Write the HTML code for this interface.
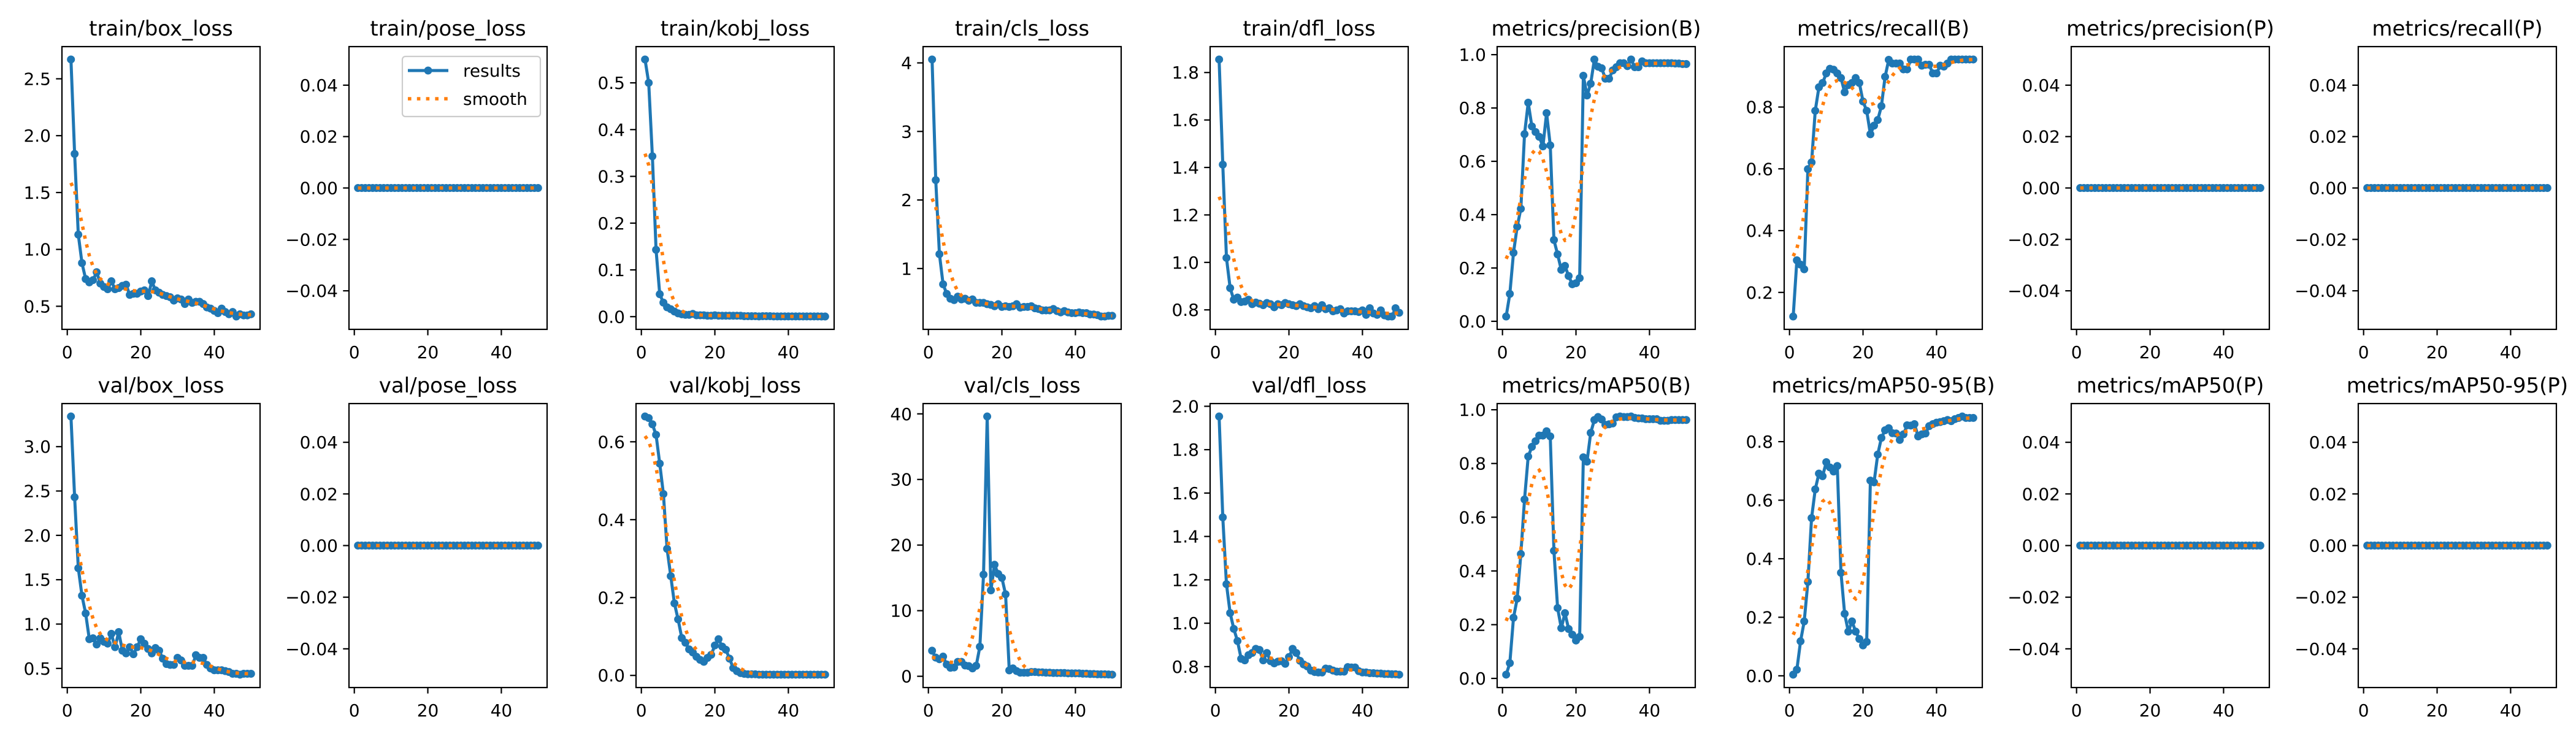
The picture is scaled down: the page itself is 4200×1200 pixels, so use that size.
<!DOCTYPE html>
<html><head><meta charset="utf-8"><title>results</title>
<style>
html,body{margin:0;padding:0;background:#fff;}
svg{display:block;font-family:"DejaVu Sans","Liberation Sans",sans-serif;}
</style></head>
<body>
<svg id="fig" width="4200" height="1200" viewBox="0 0 4200 1200" xmlns="http://www.w3.org/2000/svg">
<rect width="4200" height="1200" fill="#fff"/>
</svg>
<script>
const epochs = Array.from({length:50},(_,i)=>i+1);
const xTicks = [0,20,40];
const titles = [
 ["train/box_loss","train/pose_loss","train/kobj_loss","train/cls_loss","train/dfl_loss","metrics/precision(B)","metrics/recall(B)","metrics/precision(P)","metrics/recall(P)"],
 ["val/box_loss","val/pose_loss","val/kobj_loss","val/cls_loss","val/dfl_loss","metrics/mAP50(B)","metrics/mAP50-95(B)","metrics/mAP50(P)","metrics/mAP50-95(P)"]
];
const zeros = new Array(50).fill(0);
const trainBox = [2.67,1.84,1.13,0.88,0.74,0.71,0.73,0.80,0.70,0.67,0.65,0.72,0.65,0.66,0.68,0.69,0.60,0.61,0.61,0.63,0.64,0.59,0.72,0.64,0.62,0.60,0.59,0.58,0.55,0.57,0.56,0.52,0.56,0.53,0.54,0.54,0.52,0.49,0.48,0.46,0.44,0.48,0.45,0.43,0.45,0.41,0.43,0.42,0.42,0.43];
const trainKobj = [0.55,0.50,0.343,0.143,0.048,0.03,0.02,0.016,0.011,0.007,0.005,0.004,0.004,0.006,0.003,0.003,0.003,0.002,0.002,0.003,0.002,0.002,0.002,0.002,0.002,0.002,0.002,0.001,0.001,0.001,0.001,0.0005,0.001,0.001,0.001,0.0005,0.0005,0.0005,0.0005,0.0005,0.0005,0.0005,0.0005,0.0005,0.0005,0.0005,0.0005,0.0005,0.0003,0.0003];
const trainCls = [4.05,2.29,1.21,0.77,0.63,0.56,0.54,0.59,0.55,0.56,0.53,0.55,0.50,0.50,0.50,0.48,0.47,0.45,0.48,0.44,0.45,0.44,0.45,0.48,0.43,0.44,0.44,0.45,0.42,0.41,0.39,0.39,0.39,0.41,0.38,0.36,0.38,0.36,0.35,0.35,0.36,0.35,0.35,0.33,0.33,0.32,0.30,0.30,0.31,0.31];
const trainDfl = [1.855,1.412,1.019,0.892,0.843,0.852,0.833,0.835,0.843,0.824,0.831,0.826,0.82,0.829,0.824,0.811,0.824,0.82,0.829,0.824,0.82,0.816,0.824,0.816,0.811,0.807,0.816,0.803,0.82,0.803,0.807,0.794,0.798,0.803,0.785,0.794,0.794,0.794,0.791,0.798,0.779,0.807,0.785,0.779,0.798,0.777,0.772,0.772,0.807,0.788];
const precisionB = [0.018,0.103,0.257,0.355,0.422,0.702,0.820,0.731,0.710,0.692,0.656,0.781,0.660,0.305,0.251,0.193,0.208,0.170,0.139,0.143,0.162,0.921,0.847,0.891,0.982,0.955,0.949,0.910,0.910,0.941,0.953,0.968,0.968,0.957,0.982,0.953,0.953,0.975,0.968,0.968,0.968,0.968,0.968,0.968,0.968,0.968,0.967,0.967,0.965,0.965];
const recallB = [0.122,0.304,0.290,0.275,0.599,0.621,0.788,0.864,0.878,0.909,0.924,0.921,0.909,0.894,0.848,0.871,0.878,0.894,0.878,0.818,0.788,0.712,0.740,0.758,0.803,0.898,0.953,0.941,0.941,0.941,0.922,0.922,0.954,0.954,0.954,0.934,0.937,0.937,0.909,0.909,0.934,0.931,0.941,0.954,0.954,0.954,0.954,0.954,0.954,0.954];
const valBox = [3.34,2.43,1.63,1.32,1.12,0.83,0.84,0.77,0.84,0.80,0.78,0.89,0.74,0.91,0.70,0.67,0.74,0.66,0.74,0.83,0.78,0.72,0.67,0.73,0.70,0.61,0.55,0.54,0.54,0.62,0.59,0.53,0.53,0.53,0.65,0.62,0.62,0.54,0.50,0.48,0.48,0.48,0.47,0.46,0.44,0.44,0.43,0.44,0.44,0.44];
const valKobj = [0.665,0.661,0.645,0.618,0.544,0.466,0.325,0.255,0.185,0.144,0.096,0.084,0.067,0.059,0.048,0.04,0.035,0.045,0.053,0.077,0.093,0.074,0.066,0.043,0.019,0.011,0.006,0.004,0.003,0.003,0.003,0.002,0.002,0.002,0.002,0.002,0.002,0.002,0.002,0.002,0.002,0.002,0.002,0.002,0.002,0.002,0.002,0.002,0.002,0.002];
const valCls = [3.9,2.85,2.6,3.0,1.8,1.3,1.35,2.2,2.2,1.65,1.55,1.2,1.6,4.5,15.5,39.6,13.1,17.0,15.6,15.0,12.5,0.9,1.2,0.8,0.55,0.55,0.55,0.65,0.65,0.6,0.6,0.55,0.55,0.5,0.5,0.5,0.5,0.45,0.45,0.45,0.45,0.4,0.4,0.35,0.35,0.3,0.3,0.3,0.28,0.25];
const valDfl = [1.953,1.488,1.18,1.047,0.974,0.918,0.836,0.829,0.853,0.863,0.882,0.877,0.829,0.863,0.825,0.815,0.823,0.825,0.813,0.844,0.882,0.863,0.827,0.810,0.801,0.782,0.775,0.773,0.773,0.791,0.789,0.782,0.777,0.777,0.777,0.798,0.796,0.796,0.779,0.773,0.773,0.770,0.770,0.768,0.768,0.766,0.766,0.765,0.765,0.763];
const mAP50B = [0.014,0.057,0.226,0.297,0.463,0.666,0.826,0.862,0.883,0.904,0.904,0.920,0.901,0.475,0.262,0.187,0.243,0.184,0.163,0.141,0.155,0.823,0.807,0.914,0.962,0.973,0.964,0.944,0.946,0.949,0.972,0.975,0.973,0.973,0.975,0.970,0.968,0.968,0.965,0.965,0.965,0.965,0.959,0.959,0.959,0.962,0.962,0.962,0.962,0.962];
const mAP5095B = [0.004,0.021,0.118,0.186,0.321,0.539,0.637,0.691,0.682,0.730,0.712,0.698,0.717,0.352,0.212,0.151,0.186,0.151,0.126,0.104,0.116,0.667,0.661,0.756,0.813,0.839,0.846,0.829,0.828,0.806,0.825,0.856,0.855,0.860,0.818,0.825,0.828,0.853,0.860,0.865,0.867,0.870,0.874,0.870,0.877,0.881,0.886,0.881,0.881,0.881];

const series = [
 [trainBox, zeros, trainKobj, trainCls, trainDfl, precisionB, recallB, zeros, zeros],
 [valBox, zeros, valKobj, valCls, valDfl, mAP50B, mAP5095B, zeros, zeros]
];
const zeroTicks = [-0.04,-0.02,0,0.02,0.04];
const yTicks = [
 [[0.5,1.0,1.5,2.0,2.5], zeroTicks, [0,0.1,0.2,0.3,0.4,0.5], [1,2,3,4], [0.8,1.0,1.2,1.4,1.6,1.8], [0,0.2,0.4,0.6,0.8,1.0], [0.2,0.4,0.6,0.8], zeroTicks, zeroTicks],
 [[0.5,1.0,1.5,2.0,2.5,3.0], zeroTicks, [0,0.2,0.4,0.6], [0,10,20,30,40], [0.8,1.0,1.2,1.4,1.6,1.8,2.0], [0,0.2,0.4,0.6,0.8,1.0], [0,0.2,0.4,0.6,0.8], zeroTicks, zeroTicks]
];
const yDecimals = [[1,2,1,0,1,1,1,2,2],[1,2,1,0,1,1,1,2,2]];

function gaussSmooth(y, sigma){
  const r = Math.round(4*sigma), w=[]; let s=0;
  for(let k=-r;k<=r;k++){const v=Math.exp(-0.5*k*k/(sigma*sigma)); w.push(v); s+=v;}
  const n=y.length, out=[];
  const idx=i=>{ while(i<0||i>=n){ if(i<0) i=-i-1; if(i>=n) i=2*n-i-1; } return i; };
  for(let i=0;i<n;i++){let a=0; for(let k=-r;k<=r;k++) a+=w[k+r]*y[idx(i+k)]; out.push(a/s);}
  return out;
}

const NS="http://www.w3.org/2000/svg";
const fig=document.getElementById('fig');
function mk(tag, attrs, parent){const e=document.createElementNS(NS,tag); for(const k in attrs) e.setAttribute(k,attrs[k]); (parent||fig).appendChild(e); return e;}

const colLeft0=101, colPitch=468, axW=323;
const rowTop=[76,658], rowBot=[537,1121];
const xMin=-1.45, xMax=52.45;
const MR=6.5;

for(let r=0;r<2;r++){
 for(let c=0;c<9;c++){
  const L=colLeft0+c*colPitch, R=L+axW, T=rowTop[r], B=rowBot[r];
  const data=series[r][c];
  let mn=Math.min(...data), mx=Math.max(...data), y0, y1;
  if(mx-mn<1e-12){y0=-0.055; y1=0.055;} else {const m=(mx-mn)*0.05; y0=mn-m; y1=mx+m;}
  const X=v=>L+(v-xMin)/(xMax-xMin)*(R-L);
  const Y=v=>B-(v-y0)/(y1-y0)*(B-T);
  const g=mk('g',{});
  
  
  const title=mk('text',{x:(L+R)/2,y:T-18,'font-size':34,'text-anchor':'middle',fill:'#000'},g);
  title.textContent=titles[r][c];
  
  
  xTicks.forEach(t=>{
    const x=X(t);
    const tk=mk('line',{x1:x,x2:x,y1:B,y2:B+9.7,stroke:'#000','stroke-width':2.2},g);
    
    
    const lb=mk('text',{x:x,y:B+47,'font-size':28,'text-anchor':'middle',fill:'#000'},g);
    lb.textContent=String(t);
    
    
  });
  yTicks[r][c].forEach(t=>{
    const y=Y(t);
    const tk=mk('line',{x1:L-9.7,x2:L,y1:y,y2:y,stroke:'#000','stroke-width':2.2},g);
    
    
    const lb=mk('text',{x:L-18,y:y+10,'font-size':28,'text-anchor':'end',fill:'#000'},g);
    lb.textContent=t.toFixed(yDecimals[r][c]).replace('-','\u2212');
    
    
  });
  const cid='clip'+r+'_'+c;
  const cp=mk('clipPath',{id:cid},g); mk('rect',{x:L-8,y:T,width:R-L+16,height:B-T},cp);
  const pg=mk('g',{'clip-path':'url(#'+cid+')'},g);
  const pts=data.map((v,i)=>X(epochs[i]).toFixed(2)+','+Y(v).toFixed(2)).join(' ');
  const line=mk('polyline',{points:pts,fill:'none',stroke:'#1f77b4','stroke-width':5,'stroke-linejoin':'round'},pg);
  
  
  data.forEach((v,i)=>{
    const m=mk('circle',{cx:X(epochs[i]),cy:Y(v),r:MR,fill:'#1f77b4'},pg);
    
    
  });
  const sm=gaussSmooth(data,3);
  const spts=sm.map((v,i)=>X(epochs[i]).toFixed(2)+','+Y(v).toFixed(2)).join(' ');
  const sl=mk('polyline',{points:spts,fill:'none',stroke:'#ff7f0e','stroke-width':5.6,'stroke-dasharray':'5.6 9.2'},pg);
  
  
  const fr=mk('rect',{x:L,y:T,width:R-L,height:B-T,fill:'none',stroke:'#000','stroke-width':2.2},g);
  
  
  if(r===0&&c===1){
    const lg=mk('g',{},g);
    
    
    mk('rect',{x:656,y:92,width:225,height:98,rx:5,fill:'#fff','fill-opacity':0.8,stroke:'#ccc','stroke-width':2.2},lg);
    mk('line',{x1:665,x2:731,y1:115,y2:115,stroke:'#1f77b4','stroke-width':5},lg);
    mk('circle',{cx:698,cy:115,r:MR,fill:'#1f77b4'},lg);
    const t1=mk('text',{x:755,y:125,'font-size':28,fill:'#000'},lg); t1.textContent='results';
    
    
    mk('line',{x1:665,x2:731,y1:161,y2:161,stroke:'#ff7f0e','stroke-width':5.6,'stroke-dasharray':'5.6 9.2'},lg);
    const t2=mk('text',{x:755,y:171,'font-size':28,fill:'#000'},lg); t2.textContent='smooth';
    
    
  }
 }
}
</script>
</body></html>
